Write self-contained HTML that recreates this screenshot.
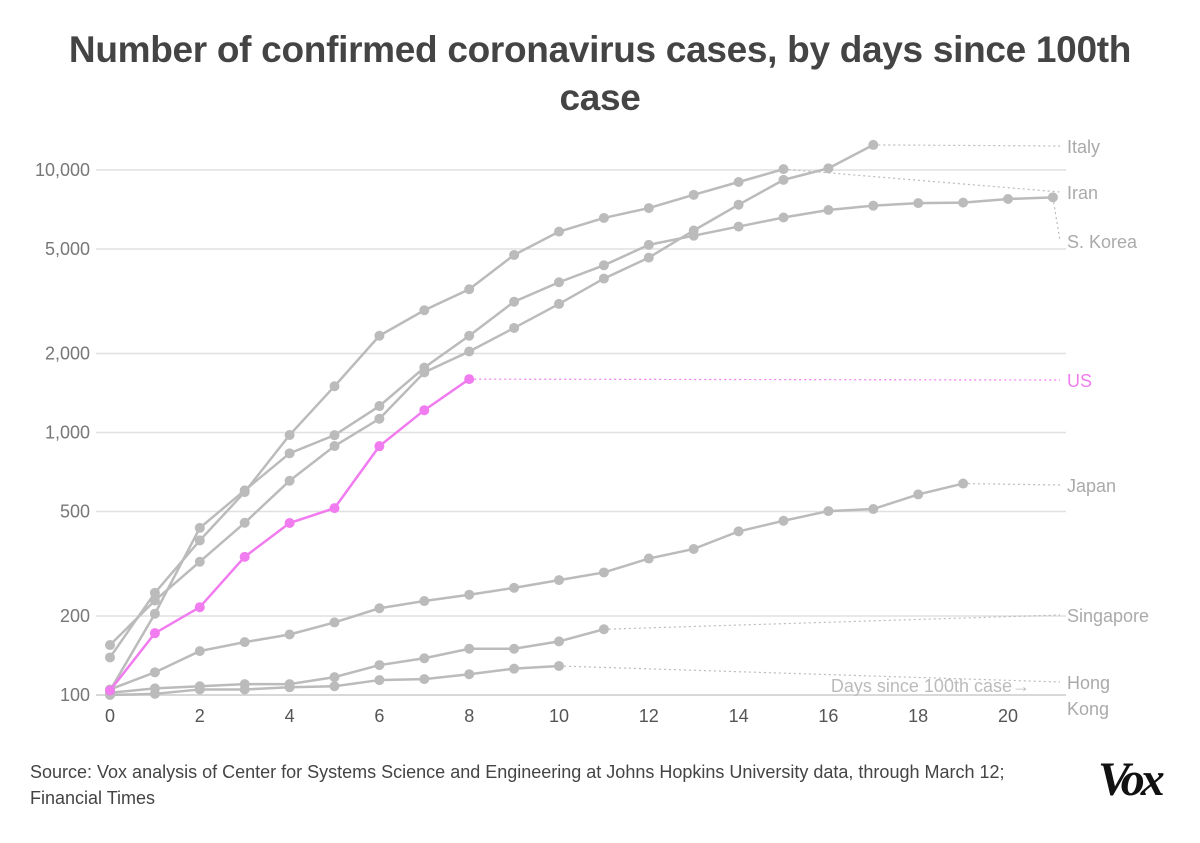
<!DOCTYPE html>
<html><head><meta charset="utf-8"><style>
body{margin:0;background:#fff;width:1200px;height:843px;overflow:hidden;font-family:"Liberation Sans",sans-serif}
#title{position:absolute;left:0;top:26px;width:1200px;text-align:center;font-weight:bold;font-size:37px;line-height:48px;color:#444;letter-spacing:-0.3px}
#source{position:absolute;left:30px;top:759px;font-size:18px;line-height:26px;color:#444;width:1050px}
#logo{position:absolute;left:1098px;top:752px;font-family:"Liberation Serif",serif;font-weight:bold;font-style:italic;font-size:48px;color:#111;letter-spacing:-4px}
svg{position:absolute;left:0;top:0}
</style></head><body>
<div id="title">Number of confirmed coronavirus cases, by days since 100th<br>case</div>
<svg id="chart" width="1200" height="843"></svg>
<div id="source">Source: Vox analysis of Center for Systems Science and Engineering at Johns Hopkins University data, through March 12; Financial Times</div>
<div id="logo">Vox</div>
<script>
const yTicks=[100,200,500,1000,2000,5000,10000];
const yTickLabels=["100","200","500","1,000","2,000","5,000","10,000"];
const xTicks=[0,2,4,6,8,10,12,14,16,18,20];
const italy=[155,229,322,453,655,888,1128,1694,2036,2502,3089,3858,4636,5883,7375,9172,10149,12462];
const iran=[139,245,388,593,978,1501,2336,2922,3513,4747,5823,6566,7161,8042,9000,10075];
const korea=[104,204,433,602,833,977,1261,1766,2337,3150,3736,4335,5186,5621,6088,6593,7041,7313,7478,7513,7755,7869];
const japan=[105,122,147,159,170,189,214,228,241,256,274,293,331,360,420,461,502,511,581,639];
const singapore=[102,106,108,110,110,117,130,138,150,150,160,178];
const hongkong=[100,101,105,105,107,108,114,115,120,126,129];
const us=[104,172,216,336,452,515,887,1216,1597];
const NS="http://www.w3.org/2000/svg";
const svg=document.getElementById('chart');
const X=d=>110+d*44.9;
const Y=v=>695-262.5*Math.log10(v/100);
function el(t,a,txt){const e=document.createElementNS(NS,t);for(const k in a)e.setAttribute(k,a[k]);if(txt!==undefined)e.textContent=txt;svg.appendChild(e);return e;}
yTicks.forEach((v,i)=>{
 const g=el('line',{x1:96,x2:1066,y1:Y(v),y2:Y(v),stroke:i==0?'#ccc':'#e0e0e0','stroke-width':1.5});
 
 
 const t=el('text',{x:90,y:Y(v)+6,'text-anchor':'end','font-size':18,fill:'#777'},yTickLabels[i]);
 
 
});
xTicks.forEach(d=>{
 const t=el('text',{x:X(d),y:722,'text-anchor':'middle','font-size':18,fill:'#555'},String(d));
 
 
});
const xt=el('text',{x:1030,y:692,'text-anchor':'end','font-size':18,fill:'#bbb'},'Days since 100th case\u2192');


function series(name,arr,color,lx,ly,lines){
 const last=arr.length-1;
 const d=el('path',{d:`M${X(last)},${Y(arr[last])}L1060,${ly}`,stroke:color==='#bbb'?'#bbb':color,'stroke-width':1.2,'stroke-dasharray':'2,3',fill:'none'});
 
 
 const p=el('polyline',{points:arr.map((v,i)=>X(i)+','+Y(v)).join(' '),fill:'none',stroke:color,'stroke-width':2.5});
 
 
 arr.forEach((v,i)=>{const c=el('circle',{cx:X(i),cy:Y(v),r:5,fill:color});
  
  });
 lines.forEach((s,k)=>{const t=el('text',{x:lx,y:ly+7+k*26,'font-size':18,fill:color==='#bbb'?'#aaa':color},s);
  
  });
}
series('italy',italy,'#bbb',1067,146,['Italy']);
series('iran',iran,'#bbb',1067,192,['Iran']);
series('korea',korea,'#bbb',1067,241,['S. Korea']);
series('japan',japan,'#bbb',1067,485,['Japan']);
series('singapore',singapore,'#bbb',1067,615,['Singapore']);
series('hongkong',hongkong,'#bbb',1067,682,['Hong','Kong']);
series('us',us,'#f07cf0',1067,380,['US']);
</script>
</body></html>
